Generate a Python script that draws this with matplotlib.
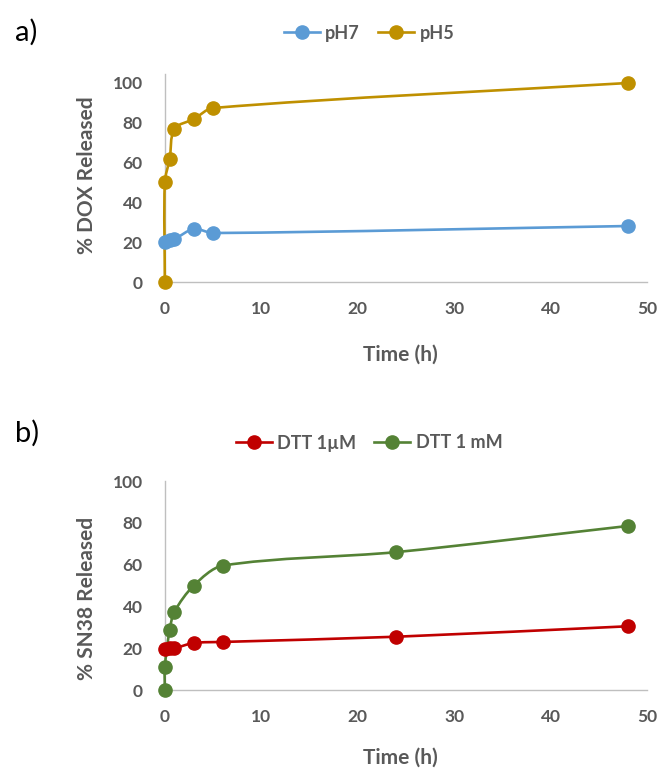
import numpy as np
import matplotlib
matplotlib.use("Agg")
import matplotlib.pyplot as plt
from matplotlib.path import Path
from matplotlib.patches import PathPatch
from matplotlib.lines import Line2D

# panel a) DOX release
time_a = [0, 0.5, 1, 3, 5, 48]
ph7 = [20, 21, 21.5, 26.5, 24.5, 28]
time_a5 = [0, 0, 0.5, 1, 3, 5, 48]
ph5 = [0, 50, 61.5, 76.5, 81.5, 87, 99.5]

# panel b) SN38 release
time_b = [0, 0.5, 1, 3, 6, 24, 48]
dtt_um = [19.5, 20, 20, 22.5, 23, 25.5, 30.5]
time_b_mm = [0, 0, 0.5, 1, 3, 6, 24, 48]
dtt_mm = [0, 11, 28.7, 37.5, 50, 59.5, 66, 78.5]

x_ticks = [0, 10, 20, 30, 40, 50]
y_ticks = [0, 20, 40, 60, 80, 100]

GREY = "#595959"
FONT = "Lato"


def smooth_path(ax, x, y, k=0.3):
    """Excel-like smoothed line, built in screen space so it does not overshoot."""
    pts = ax.transData.transform(np.column_stack([x, y]).astype(float))
    n = len(pts)
    tang = []
    for i in range(n):
        d = pts[min(i + 1, n - 1)] - pts[max(i - 1, 0)]
        nrm = np.hypot(*d)
        tang.append(d / nrm if nrm > 0 else np.zeros(2))
    verts = [pts[0]]
    codes = [Path.MOVETO]
    for i in range(n - 1):
        seg = np.hypot(*(pts[i + 1] - pts[i]))
        c1 = pts[i] + tang[i] * seg * k
        c2 = pts[i + 1] - tang[i + 1] * seg * k
        verts += [c1, c2, pts[i + 1]]
        codes += [Path.CURVE4] * 3
    verts = ax.transData.inverted().transform(np.array(verts))
    return Path(verts, codes)


def draw_series(ax, x, y, color):
    ax.add_patch(PathPatch(smooth_path(ax, x, y), facecolor="none", edgecolor=color,
                           lw=1.9, zorder=3, capstyle="round", joinstyle="round",
                           clip_on=False))
    ax.plot(x, y, linestyle="none", marker="o", ms=9.5, color=color, zorder=4,
            clip_on=False)


def style_axes(ax, ytop):
    ax.set_xlim(0, 50)
    ax.set_ylim(0, ytop)
    ax.set_xticks(x_ticks)
    ax.set_yticks(y_ticks)
    for s in ["top", "right"]:
        ax.spines[s].set_visible(False)
    for s in ["left", "bottom"]:
        ax.spines[s].set_color("#BFBFBF")
        ax.spines[s].set_linewidth(1.0)
    ax.tick_params(length=0, pad=14, labelsize=12.5, labelcolor=GREY)
    ax.tick_params(axis="y", pad=16)
    for lab in ax.get_xticklabels() + ax.get_yticklabels():
        lab.set_fontweight("bold")
        lab.set_fontfamily(FONT)


fig = plt.figure(figsize=(6.7, 7.78), dpi=100)

ax_a = fig.add_axes([0.246, 0.6375, 0.72, 0.2571 * 1.04])
style_axes(ax_a, 104)
draw_series(ax_a, time_a, ph7, "#5B9BD5")
draw_series(ax_a, time_a5, ph5, "#BF9000")

ax_b = fig.add_axes([0.246, 0.1131, 0.72, 0.2686])
style_axes(ax_b, 100)
draw_series(ax_b, time_b, dtt_um, "#C00000")
draw_series(ax_b, time_b_mm, dtt_mm, "#548235")

# axis titles
fig.text(87 / 670, 1 - 175 / 778, "% DOX Released", rotation=90, ha="center", va="center",
         fontsize=15, fontweight="bold", color=GREY, family=FONT)
fig.text(87 / 670, 1 - 598 / 778, "% SN38 Released", rotation=90, ha="center", va="center",
         fontsize=15, fontweight="bold", color=GREY, family=FONT)
fig.text(400 / 670, 1 - 355 / 778, "Time (h)", ha="center", va="center",
         fontsize=15, fontweight="bold", color=GREY, family=FONT)
fig.text(400 / 670, 1 - 758 / 778, "Time (h)", ha="center", va="center",
         fontsize=15, fontweight="bold", color=GREY, family=FONT)

# panel letters
fig.text(26 / 670, 1 - 32 / 778, "a)", ha="center", va="center", fontsize=21, color="black", family=FONT)
fig.text(27 / 670, 1 - 433 / 778, "b)", ha="center", va="center", fontsize=21, color="black", family=FONT)


def make_legend(labels, colors, y):
    handles = [Line2D([], [], color=c, lw=1.9, marker="o", ms=9.5) for c in colors]
    leg = fig.legend(handles, labels, loc="center", bbox_to_anchor=(369 / 670, y), ncol=2,
                     frameon=False, handlelength=2.0, handletextpad=0.3, columnspacing=1.0,
                     prop={"family": FONT, "weight": "bold", "size": 13})
    for t in leg.get_texts():
        t.set_color(GREY)
    return leg


make_legend(["pH7", "pH5"], ["#5B9BD5", "#BF9000"], 1 - 33 / 778)
make_legend(["DTT 1\u00b5M", "DTT 1 mM"], ["#C00000", "#548235"], 1 - 443 / 778)

fig.savefig("out.png", dpi=100, facecolor="white")
